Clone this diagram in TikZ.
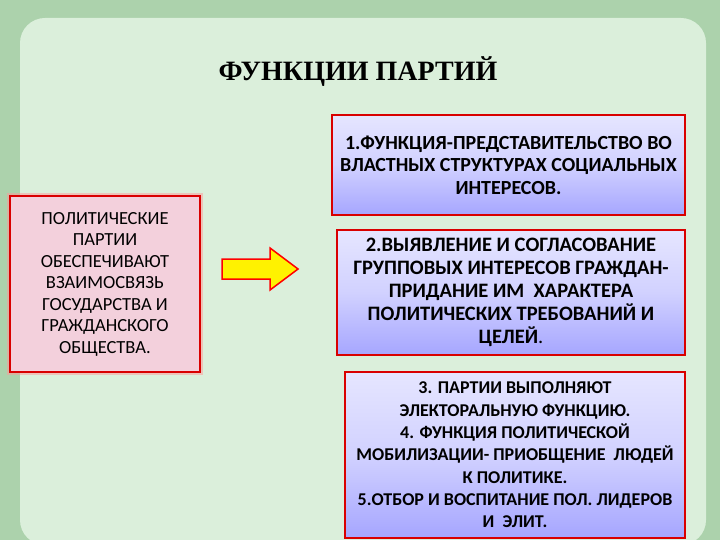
\documentclass[tikz,border=0pt]{standalone}
\usepackage{fontspec}
\setmainfont{Carlito}
\newfontfamily\titlefont{Liberation Serif}
\begin{document}
\begin{tikzpicture}[x=1pt,y=-1pt,
  rbox/.style={draw=red!85!black,line width=1.6pt,top color=blue!10!white,bottom color=blue!35!white,middle color=blue!18!white,
    align=center,font=\fontsize{20}{22.5}\selectfont\bfseries,inner sep=2pt},
  lbox/.style={draw=red!85!black,line width=2pt,fill=blue!8!pink!60!white,
    align=center,font=\fontsize{18.5}{21.5}\selectfont,inner sep=2pt}]
\useasboundingbox (0,0) rectangle (720,540);
\fill[green!30!gray!50!white] (0,0) rectangle (720,540);
\fill[white!92!green!90!gray,opacity=0.92,rounded corners=25pt] (20,18) rectangle (706,545);
\node[font=\titlefont\fontsize{28}{30}\selectfont\bfseries] (t) at (358,72) {ФУНКЦИИ ПАРТИЙ};
\draw[red!40,line width=6pt,opacity=0.5] (10,196) rectangle (200,372);
\node[lbox,minimum width=190pt,minimum height=176pt] (l) at (105,284) {ПОЛИТИЧЕСКИЕ\\ПАРТИИ\\ОБЕСПЕЧИВАЮТ\\ВЗАИМОСВЯЗЬ\\ГОСУДАРСТВА И\\ГРАЖДАНСКОГО\\ОБЩЕСТВА.};
\node[rbox,minimum width=353pt,minimum height=100pt] (b1) at (508.5,165) {1.ФУНКЦИЯ-ПРЕДСТАВИТЕЛЬСТВО ВО\\ВЛАСТНЫХ СТРУКТУРАХ СОЦИАЛЬНЫХ\\ИНТЕРЕСОВ.};
\node[rbox,minimum width=348pt,minimum height=125pt,font=\fontsize{20.5}{23}\selectfont\bfseries] (b2) at (511,292.5) {2.ВЫЯВЛЕНИЕ И СОГЛАСОВАНИЕ\\ГРУППОВЫХ ИНТЕРЕСОВ ГРАЖДАН-\\ПРИДАНИЕ ИМ\ \ ХАРАКТЕРА\\ПОЛИТИЧЕСКИХ ТРЕБОВАНИЙ И\\ЦЕЛЕЙ\textmd{.}};
\node[rbox,minimum width=340pt,minimum height=166pt,font=\fontsize{18}{22.3}\selectfont\bfseries] (b3) at (515,455) {3. ПАРТИИ ВЫПОЛНЯЮТ\\ЭЛЕКТОРАЛЬНУЮ ФУНКЦИЮ.\\4. ФУНКЦИЯ ПОЛИТИЧЕСКОЙ\\МОБИЛИЗАЦИИ- ПРИОБЩЕНИЕ\ \ ЛЮДЕЙ\\К ПОЛИТИКЕ.\\5.ОТБОР И ВОСПИТАНИЕ ПОЛ. ЛИДЕРОВ\\И\ \ ЭЛИТ.};
\draw[red,line width=1.5pt,fill=yellow,line join=miter]
  (222,259) -- (270,259) -- (270,248) -- (298,269) -- (270,290) -- (270,279) -- (222,279) -- cycle;
\end{tikzpicture}
\end{document}
